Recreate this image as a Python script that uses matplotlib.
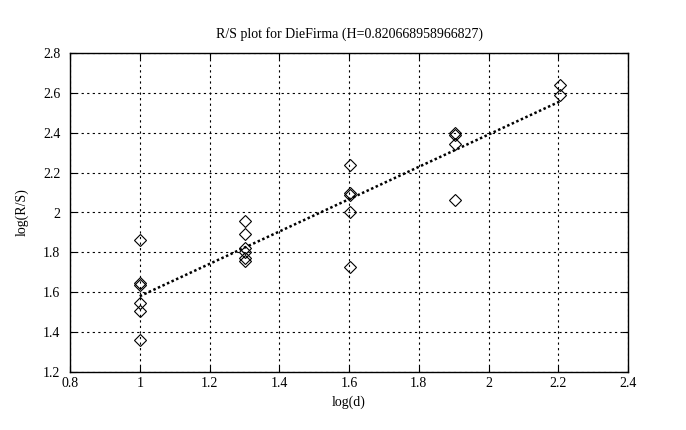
import numpy as np
import matplotlib
matplotlib.use("Agg")
import matplotlib.pyplot as plt

plt.rcParams['font.family'] = ['Liberation Serif', 'DejaVu Serif']

log_d = [1.0, 1.30103, 1.60206, 1.90309, 2.20412]
rs_groups = [
    [1.86, 1.645, 1.635, 1.545, 1.505, 1.36],
    [1.955, 1.89, 1.82, 1.80, 1.77, 1.755],
    [2.24, 2.10, 2.09, 2.005, 1.725],
    [2.40, 2.39, 2.345, 2.065],
    [2.64, 2.59],
]
title = "R/S plot for DieFirma (H=0.820668958966827)"
xticks = [0.8, 1.0, 1.2, 1.4, 1.6, 1.8, 2.0, 2.2, 2.4]
xticklabels = ["0.8", "1", "1.2", "1.4", "1.6", "1.8", "2", "2.2", "2.4"]
yticks = [1.2, 1.4, 1.6, 1.8, 2.0, 2.2, 2.4, 2.6, 2.8]
yticklabels = ["1.2", "1.4", "1.6", "1.8", "2", "2.2", "2.4", "2.6", "2.8"]

xs = np.concatenate([[x] * len(g) for x, g in zip(log_d, rs_groups)])
ys = np.concatenate(rs_groups)
slope, intercept = np.polyfit(xs, ys, 1)

fig = plt.figure(figsize=(6.86, 4.30), dpi=100)
ax = fig.add_axes([70/686, 58/430, 558/686, 319/430])

ax.plot(xs, ys, linestyle='none', marker='D', markersize=6.5,
        markerfacecolor='none', markeredgecolor='black', markeredgewidth=0.8)
fx = np.array([min(log_d), max(log_d)])
ax.plot(fx, slope * fx + intercept, linestyle=(0, (1, 1)), color='black', linewidth=1.8)

ax.set_xlim(0.8, 2.4)
ax.set_ylim(1.2, 2.8)
ax.set_xticks(xticks)
ax.set_xticklabels(xticklabels)
ax.set_yticks(yticks)
ax.set_yticklabels(yticklabels)
ax.grid(True, linestyle=(0, (2, 3)), color='black', linewidth=0.8)
ax.tick_params(direction='in', length=4, width=0.8, labelsize=10,
               top=True, right=True)
ax.tick_params(axis='y', pad=7)
for s in ax.spines.values():
    s.set_linewidth(1.0)

ax.set_title(title, fontsize=10, pad=11)
ax.set_xlabel("log(d)", fontsize=10, labelpad=4)
ax.set_ylabel("log(R/S)", fontsize=10, labelpad=10)

fig.savefig("out.png", dpi=100)
